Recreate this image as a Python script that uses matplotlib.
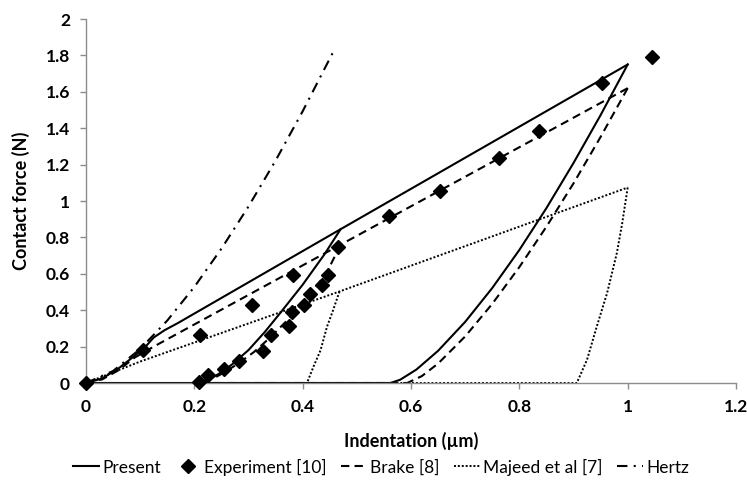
import matplotlib
matplotlib.use('Agg')
import numpy as np
import matplotlib.pyplot as plt

plt.rcParams['font.family'] = ['Lato', 'DejaVu Sans']

# Present model (loading, two unloading branches, flat part at zero force)
present_load_x = [0, 0.03, 0.06, 0.09, 0.11, 0.125, 0.145, 0.17, 0.47, 1.0]
present_load_y = [0, 0.025, 0.08, 0.15, 0.2, 0.25, 0.29, 0.33, 0.845, 1.75]
present_un1_x = [0.47, 0.44, 0.40, 0.36, 0.33, 0.30, 0.27, 0.25, 0.23, 0.205]
present_un1_y = [0.845, 0.706, 0.54, 0.39, 0.28, 0.181, 0.103, 0.059, 0.024, 0]
present_un2_x = [1.0, 0.95, 0.9, 0.85, 0.8, 0.75, 0.70, 0.65, 0.61, 0.58, 0.562]
present_un2_y = [1.75, 1.472, 1.209, 0.961, 0.731, 0.522, 0.336, 0.177, 0.074, 0.018, 0]
present_flat_x = [0, 0.562]
present_flat_y = [0, 0]

# Experiment [10]
exp_x = [0, 0.106, 0.211, 0.307, 0.383, 0.465, 0.559, 0.653, 0.762, 0.837, 0.953, 1.044,
         0.447, 0.436, 0.413, 0.402, 0.381, 0.375, 0.342, 0.327, 0.282, 0.254, 0.226, 0.209]
exp_y = [0, 0.183, 0.266, 0.43, 0.595, 0.75, 0.918, 1.057, 1.235, 1.385, 1.65, 1.793,
         0.595, 0.54, 0.49, 0.43, 0.388, 0.315, 0.265, 0.174, 0.119, 0.077, 0.044, 0.007]

# Brake [8]
brake_load_x = [0, 0.03, 0.06, 0.09, 0.125, 0.47, 1.0]
brake_load_y = [0, 0.02, 0.07, 0.14, 0.2, 0.76, 1.62]
brake_un1_x = [0.47, 0.445, 0.41, 0.37, 0.34, 0.31, 0.28, 0.255, 0.235, 0.211]
brake_un1_y = [0.76, 0.61, 0.47, 0.34, 0.25, 0.17, 0.105, 0.058, 0.025, 0]
brake_un2_x = [1.0, 0.95, 0.9, 0.85, 0.8, 0.75, 0.70, 0.65, 0.62, 0.593]
brake_un2_y = [1.62, 1.352, 1.097, 0.859, 0.637, 0.435, 0.256, 0.107, 0.038, 0]
brake_flat_x = [0.211, 0.593]
brake_flat_y = [0, 0]

# Majeed et al [7]
majeed_load_x = [0, 0.1, 0.468, 1.0]
majeed_load_y = [0, 0.118, 0.503, 1.074]
majeed_un1_x = [0.468, 0.455, 0.445, 0.433, 0.42, 0.408]
majeed_un1_y = [0.503, 0.39, 0.31, 0.18, 0.09, 0]
majeed_un2_x = [1.0, 0.99, 0.98, 0.962, 0.943, 0.925, 0.906]
majeed_un2_y = [1.074, 0.88, 0.714, 0.494, 0.311, 0.128, 0]
majeed_flat_x = [0.408, 0.906]
majeed_flat_y = [0, 0]

# Hertz
hertz_x = [0, 0.05, 0.1, 0.15, 0.2, 0.25, 0.3, 0.35, 0.4, 0.46]
hertz_y = [0, 0.066, 0.187, 0.343, 0.528, 0.738, 0.97, 1.222, 1.493, 1.84]

xticks = [0, 0.2, 0.4, 0.6, 0.8, 1.0, 1.2]
xtick_labels = ['0', '0.2', '0.4', '0.6', '0.8', '1', '1.2']
yticks = [0, 0.2, 0.4, 0.6, 0.8, 1.0, 1.2, 1.4, 1.6, 1.8, 2.0]
ytick_labels = ['0', '0.2', '0.4', '0.6', '0.8', '1', '1.2', '1.4', '1.6', '1.8', '2']

fig = plt.figure(figsize=(7.47, 4.86), dpi=100)
ax = fig.add_axes([0.1151, 0.2119, 0.8702, 0.749])

lw = 1.5
solid = dict(color='black', lw=lw, ls='-')
dashed = dict(color='black', lw=lw, ls=(0, (4, 2.5)))
dotted = dict(color='black', lw=1.4, ls=(0, (1, 1)))
dashdot = dict(color='black', lw=lw, ls=(0, (5, 3, 1, 3)))

ax.plot(present_flat_x, present_flat_y, **solid)
ax.plot(majeed_flat_x, majeed_flat_y, **dotted)
ax.plot(brake_flat_x, brake_flat_y, **dashed)

ax.plot(present_load_x, present_load_y, label='Present', **solid)
ax.plot(present_un1_x, present_un1_y, **solid)
ax.plot(present_un2_x, present_un2_y, **solid)

ax.plot(exp_x, exp_y, ls='none', marker='D', ms=7, color='black', label='Experiment [10]',
        zorder=5, clip_on=False)

ax.plot(brake_load_x, brake_load_y, label='Brake [8]', **dashed)
ax.plot(brake_un1_x, brake_un1_y, **dashed)
ax.plot(brake_un2_x, brake_un2_y, **dashed)

ax.plot(majeed_load_x, majeed_load_y, label='Majeed et al [7]', **dotted)
ax.plot(majeed_un1_x, majeed_un1_y, **dotted)
ax.plot(majeed_un2_x, majeed_un2_y, **dotted)

ax.plot(hertz_x, hertz_y, label='Hertz', **dashdot)

ax.set_xlim(0, 1.2)
ax.set_ylim(0, 2)
ax.set_xticks(xticks)
ax.set_xticklabels(xtick_labels)
ax.set_yticks(yticks)
ax.set_yticklabels(ytick_labels)

for s in ['top', 'right']:
    ax.spines[s].set_visible(False)
for s in ['left', 'bottom']:
    ax.spines[s].set_color('#8c8c8c')
    ax.spines[s].set_linewidth(1)
ax.tick_params(axis='both', direction='out', color='#8c8c8c', length=4.5, width=1,
               labelsize=12.5, pad=7)
for lab in ax.get_xticklabels() + ax.get_yticklabels():
    lab.set_fontweight('bold')

ax.set_xlabel('Indentation (µm)', fontsize=13, fontweight='bold', labelpad=12)
ax.set_ylabel('Contact force (N)', fontsize=13, fontweight='bold', labelpad=11)

fig.legend(loc='center', bbox_to_anchor=(0.51, 0.039), ncol=5, frameon=False,
           fontsize=12.5, handlelength=1.5, handletextpad=0.2, columnspacing=0.8)

fig.savefig('out.png', dpi=100)
